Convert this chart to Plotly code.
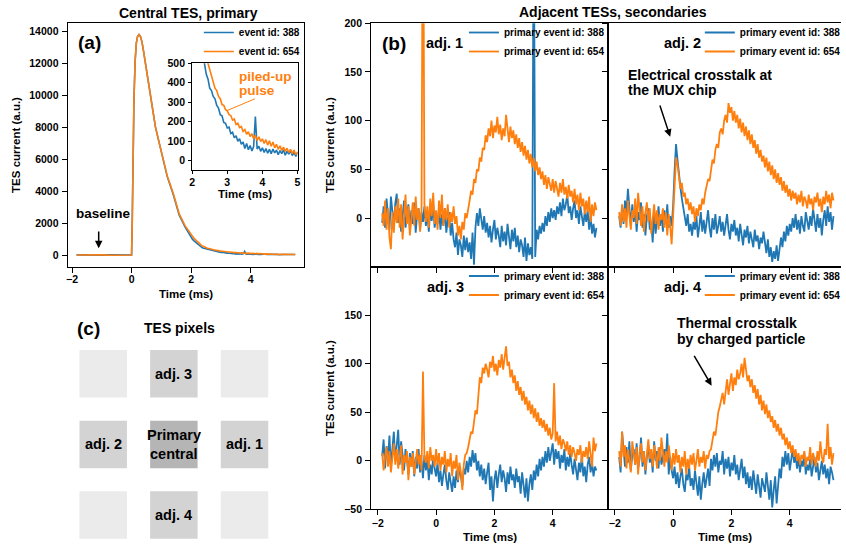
import plotly.graph_objects as go

# ---------------- data ----------------
event_ids = ["388", "654"]

# panel (a): central TES pulse (time in ms, current in a.u.)
t_a = [-1.85, -1.6, -1.3, -1.0, -0.7, -0.4, -0.1, 0.0, 0.02, 0.05,
       0.08, 0.12, 0.16, 0.2, 0.25, 0.3, 0.35, 0.4, 0.5, 0.6,
       0.7, 0.8, 0.9, 1.0, 1.2, 1.4, 1.6, 1.8, 2.0,
       2.05, 2.1, 2.15, 2.2, 2.25, 2.3, 2.35, 2.4, 2.45, 2.5,
       2.55, 2.6, 2.65, 2.7, 2.75, 2.8, 2.85, 2.9, 2.95, 3.0,
       3.05, 3.1, 3.15, 3.2, 3.25, 3.3, 3.35, 3.4, 3.45, 3.5,
       3.55, 3.6, 3.65, 3.7, 3.75, 3.8, 3.85, 3.9, 3.95, 4.0,
       4.05, 4.1, 4.15, 4.2, 4.25, 4.3, 4.35, 4.4, 4.45, 4.5,
       4.55, 4.6, 4.65, 4.7, 4.75, 4.8, 4.85, 4.9, 4.95, 5.0,
       5.1, 5.2, 5.3, 5.4, 5.5]
a_388 = [10, -8, 12, -5, 8, -10, 4, 0, 1800, 6500,
         9800, 12200, 13300, 13700, 13820, 13700, 13350, 12800, 11600, 10300,
         9100, 8050, 7250, 6500, 4900, 3800, 2500, 1750, 1080,
         980, 890, 800, 705, 625, 550, 500, 445, 420, 372,
         360, 330, 318, 284, 270, 236, 230, 196, 192, 168,
         172, 140, 146, 118, 128, 100, 112, 84, 96, 62,
         88, 56, 78, 50, 72, 226, 60, 74, 48, 66,
         42, 62, 38, 58, 36, 60, 40, 54, 30, 52,
         36, 56, 28, 48, 34, 52, 26, 44, 22, 40,
         38, 30, 34, 28, 30]
a_654 = [5, 12, -6, 8, -12, 6, -4, 0, 1800, 6500,
         9800, 12200, 13300, 13700, 13820, 13700, 13350, 12800, 11600, 10300,
         9100, 8050, 7250, 6520, 4950, 3880, 2580, 1830, 1250,
         1150, 1040, 950, 850, 760, 680, 610, 548, 500, 468,
         430, 412, 372, 360, 330, 318, 288, 284, 262, 256,
         236, 232, 208, 214, 186, 192, 170, 176, 150, 160,
         136, 148, 124, 138, 112, 130, 104, 122, 98, 112,
         88, 108, 80, 102, 74, 96, 66, 84, 58, 76,
         52, 70, 48, 64, 42, 58, 36, 54, 30, 44,
         42, 36, 38, 32, 36]

# panel (b): adjacent TESs, sampled every 0.05 ms from -1.85 ms to 5.5 ms
t_b = [round(-1.85 + 0.05 * i, 2) for i in range(148)]

b1_388 = [-5, 12, -10, 20, 3, -12, 22, 8, -8, 15,
          25, -5, 10, -14, 6, 18, -10, 2, 14, -12,
          8, -6, 16, -15, 4, 10, -12, 6, -4, 12,
          -8, 5, -14, 9, -3, 14, -10, 2, -6, 8,
          -12, 4, -8, 10, -15, -2, 6, -18, -5, -22,
          -30, -15, -38, -22, -28, -40, -18, -33, -20, -35,
          -25, -42, -15, -48, -10, 5, -8, 10, -3, -12,
          2, -15, -5, -20, -8, -25, -12, -2, -22, -10,
          -18, -30, -8, -24, -14, -28, -6, -20, -32, -12,
          -24, -10, -30, -18, -35, -22, -28, -40, -20, -44,
          -26, -38, -30, -42, 350, -40, -12, -22, -8, -16,
          -5, -14, 2, -8, 6, -4, 10, 0, 8, -2,
          12, 4, 16, 2, 20, 8, 14, 24, 5, 12,
          -2, 10, 18, 0, 8, -6, 12, 2, -8, 6,
          -4, 8, -12, 2, -16, -6, -20, -10]
b1_654 = [5, -8, 18, -12, 10, -20, -32, 6, -15, 12,
          -5, 20, -10, 14, -22, 8, 24, -6, 12, -18,
          4, 16, -8, 22, -2, 10, -14, 6, 400, 14,
          -4, 12, -10, 20, 2, 26, -6, 8, -12, 18,
          0, 24, -8, 10, -2, 14, -10, 6, -4, 12,
          -6, 2, -18, -8, -22, -4, -12, 5, 0, 12,
          18, 28, 24, 40, 36, 50, 48, 62, 58, 72,
          70, 85, 78, 92, 84, 100, 82, 95, 88, 104,
          86, 96, 80, 92, 84, 106, 88, 78, 94, 82,
          90, 76, 86, 72, 82, 68, 78, 64, 74, 60,
          70, 56, 66, 52, 62, 48, 58, 44, 52, 40,
          48, 34, 44, 30, 42, 36, 28, 40, 26, 38,
          30, 22, 36, 26, 40, 24, 32, 20, 34, 22,
          28, 16, 30, 14, 24, 8, 26, 12, 20, 4,
          18, 6, 22, -4, 14, 2, 16, 8]
b2_388 = [2, -10, 12, -6, 18, 5, 30, 10, -8, 14,
          -4, 8, -14, 6, -2, 16, -10, 4, -18, 2,
          10, -12, -4, -25, 6, -16, -2, 12, -8, 4,
          -14, 8, -6, 14, -10, 2, -8, 12, 48, 76,
          60, 42, 32, 20, 12, 0, -8, 4, -14, -6,
          -18, -4, -12, 2, -20, -8, 6, -14, -2, -16,
          -6, 8, -10, -20, 0, -12, 4, -16, -8, 2,
          -14, -4, -18, -8, 4, -12, -22, -6, -14, -2,
          -18, -10, -24, -6, -16, -28, -12, -20, -8, -26,
          -14, -22, -30, -12, -24, -18, -32, -20, -26, -14,
          -28, -36, -22, -40, -30, -45, -34, -42, -28, -44,
          -32, -20, -30, -14, -24, -8, -18, -6, -14, 0,
          -10, 4, -12, -2, -16, 2, -8, -14, 6, -4,
          -12, 2, -8, 10, -6, -14, 4, -10, 0, -18,
          -2, 8, -8, 12, -4, 6, -12, 2]
b2_654 = [6, -8, 14, -4, 10, -10, 18, 4, -12, 8,
          0, 20, -6, 26, 4, -8, 12, -14, 6, 16,
          -4, 10, -16, 2, 14, -6, 8, -12, 4, -2,
          10, -10, 6, -18, 4, -8, -27, 2, 40, 62,
          55, 44, 30, 36, 22, 26, 14, 20, 8, 16,
          4, 12, -4, 10, 2, 14, 8, 20, 14, 26,
          32, 40, 38, 52, 60, 56, 70, 76, 72, 88,
          92, 86, 100, 106, 98, 118, 108, 114, 100, 110,
          98, 106, 92, 102, 88, 98, 84, 94, 80, 90,
          76, 86, 72, 80, 66, 76, 62, 70, 58, 64,
          52, 62, 48, 58, 44, 54, 40, 50, 36, 46,
          34, 42, 28, 38, 26, 34, 22, 30, 18, 28,
          20, 26, 14, 24, 16, 28, 12, 22, 18, 10,
          24, 14, 20, 8, 22, 16, 26, 12, 20, 6,
          22, 14, 28, 16, 24, 10, 26, 18]
b3_388 = [5, 22, -8, 15, 2, 26, -6, 18, 30, 0,
          14, 32, -4, 20, 6, -10, 12, 2, -14, 8,
          -6, 10, -16, 4, -8, 12, -12, 0, -18, 6,
          -10, 2, -20, -4, -14, 4, -8, -16, -2, -22,
          -10, -26, -14, -4, -20, -30, -12, -24, -32, -16,
          -28, -10, -22, -6, -18, -26, -8, -14, 0, -12,
          4, -6, 11, -2, 8, -10, 0, -16, -4, -20,
          -8, -24, -12, -2, -30, -16, -42, -20, -10, -28,
          -14, -4, -22, -10, -18, -32, -12, -24, -6, -20,
          -14, -28, -8, -22, -16, -34, -12, -26, -38, -18,
          -42, -24, -14, -30, -10, -20, -4, -16, 2, -10,
          4, -6, 10, -2, 14, 0, 8, 18, -4, 12,
          2, 10, -8, 6, -2, 12, -10, 4, -6, 8,
          -4, -14, 2, -8, -20, -2, -12, 6, -16, -6,
          -22, -4, 4, -12, -2, -16, -6, -10]
b3_654 = [8, -10, 4, 14, -6, 10, -12, 6, 18, -4,
          12, -8, 2, 16, -14, 6, -2, 10, -20, 4,
          -6, 8, -14, 2, 12, -4, 6, -10, 92, 4,
          -2, 10, -8, 14, 0, 6, -6, 12, -4, 8,
          -10, 4, -4, 10, -12, 2, -6, 8, -16, 0,
          -8, 6, -20, -2, -12, -30, -4, 6, 8, 14,
          22, 30, 28, 42, 52, 48, 72, 86, 80, 96,
          90, 100, 94, 86, 102, 96, 108, 92, 100, 88,
          104, 96, 110, 94, 106, 118, 98, 102, 86, 94,
          80, 88, 72, 82, 68, 76, 62, 72, 58, 66,
          52, 62, 48, 58, 44, 54, 40, 50, 36, 44,
          34, 42, 30, 38, 26, 34, 22, 28, 80, 20,
          30, 16, 26, 12, 22, 18, 10, 20, 6, 16,
          4, 14, 8, 0, 12, 6, 16, -2, 10, 4,
          14, 2, 20, 8, -6, 24, 10, 18]
b4_388 = [4, -12, 30, 8, -6, 14, -2, 20, -10, 6,
          12, -4, 18, -8, 2, 24, -6, 10, -14, 4,
          16, -2, 8, -12, 20, 0, 10, -8, 14, -4,
          6, 12, 0, 28, -14, 4, -10, -18, -6, -24,
          -12, -28, -16, -8, -24, -32, -14, -20, -6, -26,
          -18, -30, -10, -22, -36, -16, -40, -24, -12, -28,
          -20, -8, -26, 2, -10, 6, -6, 8, -12, 0,
          -4, 10, -14, 2, -8, 4, -16, -2, -10, 6,
          -14, -4, -20, -8, 2, -18, -6, -24, -12, -28,
          -16, -30, -10, -22, -34, -14, -26, -38, -18, -24,
          -32, -12, -28, -40, -20, -48, -30, -16, -44, -22,
          -8, -18, 4, -6, 10, -4, 8, -10, 2, 12,
          -2, 6, -8, 4, -12, 0, -6, 8, -14, -4,
          -10, 2, -16, -6, 4, -12, -2, -20, -8, 0,
          -14, -4, -18, -8, -24, -6, -12, -20]
b4_654 = [10, -6, 30, 4, 16, -8, 12, 2, -12, 20,
          6, -4, 14, -14, 8, 18, -2, 10, -10, 4,
          22, 2, 12, -6, 16, 6, -8, 14, 0, 24,
          4, -6, 10, -2, 16, 0, -10, 8, -4, 12,
          -2, 6, -12, 4, -6, 10, -14, 2, -8, 6,
          -4, 8, -10, 0, 12, -6, 4, -2, 10, -8,
          6, 2, 10, 12, 24, 30, 26, 42, 50, 56,
          62, 70, 58, 74, 84, 68, 80, 90, 72, 86,
          78, 94, 84, 90, 100, 86, 106, 92, 82, 88,
          76, 84, 70, 78, 64, 74, 58, 68, 52, 62,
          48, 58, 44, 52, 40, 46, 34, 42, 30, 38,
          26, 34, 22, 28, 16, 24, 12, 20, 8, 16,
          4, 12, 0, 8, -4, 6, 2, 10, -6, 4,
          0, 14, -4, 8, 2, -6, 10, 0, 20, 4,
          -2, 12, 6, 38, 2, 14, -4, 8]

adj_names = ["adj. 1", "adj. 2", "adj. 3", "adj. 4"]

# tick values
a_xticks = [-2, 0, 2, 4]
a_yticks = [0, 2000, 4000, 6000, 8000, 10000, 12000, 14000]
inset_xticks = [2, 3, 4, 5]
inset_yticks = [0, 100, 200, 300, 400, 500]
b_xticks = [-2, 0, 2, 4]
b_yticks_top = [0, 50, 100, 150, 200]
b_yticks_bottom = [-50, 0, 50, 100, 150]

# panel (c): 3x3 TES pixel grid
cell_col = [0, 1, 2, 0, 1, 2, 0, 1, 2]
cell_row = [2, 2, 2, 1, 1, 1, 0, 0, 0]
cell_color = ["#ebebeb", "#d3d3d3", "#ebebeb",
              "#d3d3d3", "#b5b5b5", "#d3d3d3",
              "#ebebeb", "#d3d3d3", "#ebebeb"]
cell_label = ["", "adj. 3", "", "adj. 2", "", "adj. 1", "", "adj. 4", ""]

# ---------------- figure ----------------
W, H = 846, 550
BLUE, ORANGE = "#1f77b4", "#ff7f0e"
FONT = "Liberation Sans"


def fx(p):
    return p / W


def fy(p):
    return 1 - p / H


def bold(size, color="black"):
    return dict(family=FONT, size=size, color=color, weight="bold")


def axis(**kw):
    d = dict(showline=True, linecolor="black", linewidth=1, mirror=True,
             ticks="outside", ticklen=5, tickwidth=1, tickcolor="black",
             showgrid=False, zeroline=False, automargin=False,
             tickfont=bold(10.5), ticklabelstandoff=1, tickformat="d")
    d.update(kw)
    return d


fig = go.Figure()
cols = [BLUE, ORANGE]
for ys, c, eid in zip([a_388, a_654], cols, event_ids):
    fig.add_trace(go.Scatter(x=t_a, y=ys, mode="lines", name="event id: " + eid,
                             line=dict(color=c, width=1.6), xaxis="x", yaxis="y",
                             legend="legend"))
for ys, c in zip([a_388, a_654], cols):
    fig.add_trace(go.Scatter(x=t_a, y=ys, mode="lines", showlegend=False,
                             line=dict(color=c, width=1.6), xaxis="x2", yaxis="y2"))

b_sets = [(b1_388, b1_654), (b2_388, b2_654), (b3_388, b3_654), (b4_388, b4_654)]
for k, pair in enumerate(b_sets):
    for ys, c, eid in zip(pair, cols, event_ids):
        fig.add_trace(go.Scatter(x=t_b, y=ys, mode="lines",
                                 name="primary event id: " + eid,
                                 line=dict(color=c, width=1.8),
                                 xaxis="x%d" % (k + 3), yaxis="y%d" % (k + 3),
                                 legend="legend%d" % (k + 2)))

L1, R1, L2 = 373.3, 611.7, 611.7
T1, B1, T2, B2 = 23.3, 266.7, 266.7, 509.3
bx_range_l = [-2.23, 5.9]
bx_range_r = [-2.23, 5.758]
by_range = [-50, 200]

layout = dict(
    width=W, height=H, margin=dict(l=0, r=0, t=0, b=0),
    plot_bgcolor="white", paper_bgcolor="white",
    font=bold(10.5),
    xaxis=axis(domain=[fx(68), fx(306)], range=[-2.15, 5.8], tickvals=a_xticks,
               anchor="y", ticklabelstandoff=-3),
    yaxis=axis(domain=[fy(267), fy(23)], range=[-750, 14550], tickvals=a_yticks,
               anchor="x"),
    xaxis2=axis(domain=[fx(193.3), fx(299.3)], range=[2, 5], tickvals=inset_xticks,
                anchor="y2", ticklen=3, ticklabelstandoff=-1),
    yaxis2=axis(domain=[fy(170), fy(63.3)], range=[-48, 500], tickvals=inset_yticks,
                anchor="x2", ticklen=3),
    xaxis3=axis(domain=[fx(L1), fx(R1)], range=bx_range_l, tickvals=b_xticks,
                anchor="y3", showticklabels=False),
    yaxis3=axis(domain=[fy(B1), fy(T1)], range=by_range, tickvals=b_yticks_top,
                anchor="x3"),
    xaxis4=axis(domain=[fx(L2), 1], range=bx_range_r, tickvals=b_xticks,
                anchor="y4", showticklabels=False),
    yaxis4=axis(domain=[fy(B1), fy(T1)], range=by_range, tickvals=b_yticks_top,
                anchor="x4", showticklabels=False, mirror=False),
    xaxis5=axis(domain=[fx(L1), fx(R1)], range=bx_range_l, tickvals=b_xticks,
                anchor="y5", ticklabelstandoff=-1),
    yaxis5=axis(domain=[fy(B2), fy(T2)], range=by_range, tickvals=b_yticks_bottom,
                anchor="x5"),
    xaxis6=axis(domain=[fx(L2), 1], range=bx_range_r, tickvals=b_xticks,
                anchor="y6", ticklabelstandoff=-1),
    yaxis6=axis(domain=[fy(B2), fy(T2)], range=by_range, tickvals=b_yticks_bottom,
                anchor="x6", showticklabels=False, mirror=False),
    xaxis7=dict(domain=[fx(75.4), fx(274.4)], range=[-0.4, 2.4], visible=False,
                anchor="y7", fixedrange=True),
    yaxis7=dict(domain=[fy(543.3), fy(345.5)], range=[-0.4, 2.4], visible=False,
                anchor="x7", fixedrange=True),
)

leg = dict(xanchor="left", yanchor="top", bgcolor="rgba(0,0,0,0)", borderwidth=0,
           font=bold(10), itemwidth=30, tracegroupgap=0)
layout["legend"] = dict(leg, x=fx(200), y=fy(18))
layout["legend2"] = dict(leg, x=fx(466.7), y=fy(18))
layout["legend3"] = dict(leg, x=fx(704), y=fy(18))
layout["legend4"] = dict(leg, x=fx(466.7), y=fy(261.5))
layout["legend5"] = dict(leg, x=fx(704), y=fy(261.5))

fig.update_layout(**layout)

ann = []


def text(s, x, y, size, xref="paper", yref="paper", xanchor="center", color="black",
         angle=0):
    ann.append(dict(text=s, x=x, y=y, xref=xref, yref=yref, showarrow=False,
                    xanchor=xanchor, yanchor="middle", textangle=angle,
                    font=bold(size, color)))


# titles
text("Central TES, primary", fx(189.5), fy(13.3), 14)
text("Adjacent TESs, secondaries", fx(617), fy(12.5), 14)
# axis titles
text("TES current (a.u.)", fx(16), fy(145), 11.5, angle=-90)
text("Time (ms)", fx(187), fy(293.8), 11.5)
text("Time (ms)", fx(246.3), fy(194), 11.5)
text("TES current (a.u.)", fx(332), fy(145), 11.5, angle=-90)
text("TES current (a.u.)", fx(332), fy(388), 11.5, angle=-90)
text("Time (ms)", fx(492.5), fy(537), 11.5)
text("Time (ms)", fx(729), fy(537), 11.5)
# panel letters and labels
text("(a)", fx(90.5), fy(43), 19)
text("(b)", fx(396.7), fy(43.3), 19)
text("(c)", fx(89), fy(328), 19)
text("TES pixels", fx(181), fy(328), 14)
for name, xc, yc in zip(adj_names, [447, 687, 448, 687], [42.7, 42.7, 287.3, 287.3]):
    text(name, fx(xc), fy(yc), 14.5)

# panel (a) baseline
text("baseline", fx(103.7), fy(213.3), 13.5)
ann.append(dict(text="", x=-1.105, y=420, ax=-1.105, ay=1568, xref="x", yref="y",
                axref="x", ayref="y", showarrow=True, arrowhead=2, arrowsize=1,
                arrowwidth=1.5, arrowcolor="black", standoff=0, startstandoff=0))
# inset piled-up pulse
text("piled-up", fx(238.3), fy(76.7), 13.5, xanchor="left", color=ORANGE)
text("pulse", fx(238.3), fy(90.5), 13.5, xanchor="left", color=ORANGE)
ann.append(dict(text="", x=2.99, y=257, ax=3.83, ay=321, xref="x2", yref="y2",
                axref="x2", ayref="y2", showarrow=True, arrowhead=0,
                arrowwidth=1, arrowcolor=ORANGE, standoff=0, startstandoff=0))
# electrical crosstalk
text("Electrical crosstalk at", fx(629.3), fy(75), 14, xanchor="left")
text("the MUX chip", fx(629.3), fy(89.8), 14, xanchor="left")
ann.append(dict(text="", x=-0.10, y=83.5, ax=-0.47, ay=117, xref="x4", yref="y4",
                axref="x4", ayref="y4", showarrow=True, arrowhead=2, arrowsize=1,
                arrowwidth=1.5, arrowcolor="black", standoff=0, startstandoff=0))
# thermal crosstalk
text("Thermal crosstalk", fx(679.3), fy(323.3), 14, xanchor="left")
text("by charged particle", fx(679.3), fy(339), 14, xanchor="left")
ann.append(dict(text="", x=1.321, y=77.4, ax=0.693, ay=109.7, xref="x6", yref="y6",
                axref="x6", ayref="y6", showarrow=True, arrowhead=2, arrowsize=1,
                arrowwidth=1.5, arrowcolor="black", standoff=0, startstandoff=0))

# panel (c) grid
half = 0.336
shapes = []
for c, r, col, lab in zip(cell_col, cell_row, cell_color, cell_label):
    shapes.append(dict(type="rect", xref="x7", yref="y7", x0=c - half, x1=c + half,
                       y0=r - half, y1=r + half, fillcolor=col, line=dict(width=0),
                       layer="below"))
    if lab:
        text(lab, c, r, 14.5, xref="x7", yref="y7")
text("Primary", 1, 1.135, 14.5, xref="x7", yref="y7")
text("central", 1, 0.865, 14.5, xref="x7", yref="y7")

fig.update_layout(annotations=ann, shapes=shapes)
fig.write_html("out.html", config={"displayModeBar": False},
               post_script="document.body.style.margin='0px';")
